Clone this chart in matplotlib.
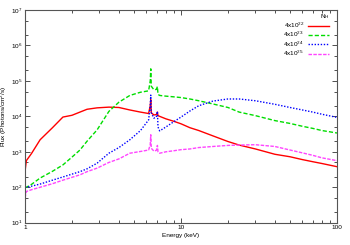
import matplotlib
matplotlib.use('Agg')
import matplotlib.pyplot as plt
from matplotlib.ticker import LogLocator, FuncFormatter, NullFormatter
import numpy as np

# Energy grid (keV) shared by all four spectra
energy = [1.0, 1.02, 1.1, 1.25, 1.5, 1.75, 2.0, 2.25, 2.5, 2.9, 3.45, 4.0,
          4.7, 5.5, 6.2, 6.35, 6.4, 6.45, 6.7, 6.95, 7.06, 7.12, 7.3, 8.0,
          9.0, 10.0, 11.4, 13.0, 16.0, 20.0, 23.6, 30.0, 40.0, 50.0, 60.0,
          70.0, 80.0, 100.0]

# log10 of flux
logflux_22 = [2.44, 2.75, 2.95, 3.34, 3.68, 3.98, 4.03, 4.12, 4.20, 4.24, 4.26, 4.25,
              4.18, 4.12, 4.08, 4.30, 4.47, 4.10, 4.04, 4.05, 4.12, 4.02, 4.00, 3.93,
              3.86, 3.79, 3.68, 3.60, 3.45, 3.29, 3.19, 3.08, 2.93, 2.86, 2.78,
              2.72, 2.67, 2.58]
logflux_23 = [2.00, 2.00, 2.08, 2.26, 2.45, 2.63, 2.85, 3.05, 3.30, 3.62, 4.14, 4.40,
              4.59, 4.68, 4.72, 5.00, 5.34, 4.85, 4.75, 4.76, 4.84, 4.62, 4.59, 4.57,
              4.55, 4.53, 4.49, 4.44, 4.35, 4.25, 4.12, 4.02, 3.88, 3.80, 3.72,
              3.66, 3.60, 3.53]
logflux_24 = [2.00, 2.00, 2.03, 2.09, 2.20, 2.29, 2.37, 2.44, 2.52, 2.68, 2.96, 3.12,
              3.34, 3.60, 3.90, 4.30, 4.60, 4.10, 3.95, 3.98, 4.14, 3.70, 3.59, 3.70,
              3.85, 3.98, 4.15, 4.30, 4.43, 4.49, 4.49, 4.44, 4.34, 4.25, 4.18,
              4.12, 4.06, 3.97]
logflux_25 = [1.70, 1.88, 1.93, 2.00, 2.10, 2.20, 2.28, 2.35, 2.44, 2.54, 2.70, 2.80,
              2.96, 3.01, 3.05, 3.20, 3.48, 3.10, 3.02, 3.04, 3.18, 3.00, 2.96, 3.00,
              3.03, 3.06, 3.08, 3.12, 3.15, 3.18, 3.19, 3.20, 3.15, 3.05, 2.97,
              2.90, 2.83, 2.75]

labels = [r'4x10$^{22}$', r'4x10$^{23}$', r'4x10$^{24}$', r'4x10$^{25}$']
colors = ['#ff0000', '#00dd00', '#0000ff', '#ff44ff']
styles = ['-', (0, (3, 1.5)), (0, (1, 1.2)), (0, (2.5, 1))]

plt.rcParams['font.family'] = 'Liberation Sans'
plt.rcParams['font.size'] = 4.6
plt.rcParams['mathtext.fontset'] = 'custom'
plt.rcParams['mathtext.rm'] = 'Liberation Sans'
plt.rcParams['mathtext.default'] = 'regular'

fig = plt.figure(figsize=(3.5, 2.45), dpi=100)
ax = fig.add_axes([25/350, 1 - 222.7/245, 312/350, 212.7/245])

series = [logflux_22, logflux_23, logflux_24, logflux_25]
for lf, lab, col, ls in zip(series, labels, colors, styles):
    ax.plot(energy, 10**np.array(lf), color=col, ls=ls, lw=1.0, label=lab)

ax.set_xscale('log')
ax.set_yscale('log')
ax.set_xlim(1, 100)
ax.set_ylim(10, 1e7)

ax.xaxis.set_major_formatter(FuncFormatter(lambda v, p: '%g' % v))
ax.xaxis.set_minor_formatter(NullFormatter())
ax.yaxis.set_major_locator(LogLocator(base=10, numticks=10))
ax.yaxis.set_minor_locator(LogLocator(base=10, subs=[2, 5], numticks=20))
ax.yaxis.set_minor_formatter(NullFormatter())
ax.tick_params(which='both', direction='in', top=True, right=True, width=0.6, colors='#333333')
ax.tick_params(which='major', length=3.5, pad=2, labelcolor='black')
ax.tick_params(which='minor', length=2)
for s in ax.spines.values():
    s.set_linewidth(0.8)
    s.set_color('#555555')

ax.set_xlabel('Energy (keV)', labelpad=1.5)
ax.set_ylabel(r'Flux (Photons/cm$^2$/s)', labelpad=1)

leg = ax.legend(title=r'N$_H$', loc='upper right', bbox_to_anchor=(1 - 6/312, 1),
                markerfirst=False, frameon=False,
                handlelength=3.3, handletextpad=0.6, labelspacing=0.0,
                borderaxespad=0.2, borderpad=0.1, fontsize=4.6, title_fontsize=4.6)
leg._legend_box.align = 'right'

plt.savefig('out.png', dpi=100)
